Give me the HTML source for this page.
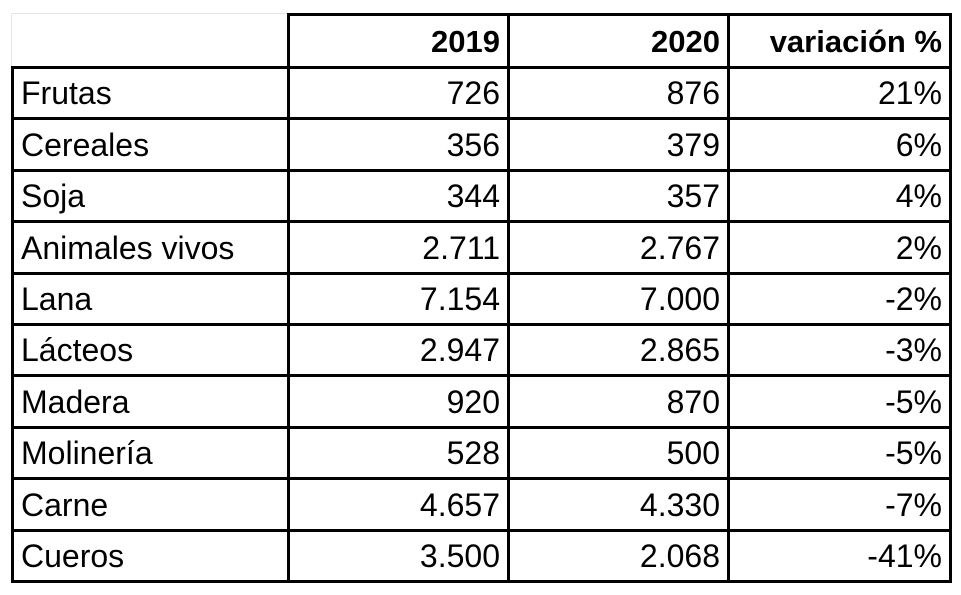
<!DOCTYPE html>
<html><head><meta charset="utf-8"><style>
body{margin:0;width:961px;height:595px;background:#fff;font-family:"Liberation Sans",sans-serif;overflow:hidden;position:relative}
.c{position:absolute;box-sizing:border-box;border:3px solid #000;font-size:32px;line-height:46px;color:#000;white-space:nowrap;overflow:hidden}
.r{text-align:right;padding-right:7px}
.l{text-align:left;padding-left:7px}
.h{font-weight:bold;font-size:31px}
</style></head><body>
<div id="t"></div>
<script>
const rows=["Frutas","Cereales","Soja","Animales vivos","Lana","Lácteos","Madera","Molinería","Carne","Cueros"];
const v2019=["726","356","344","2.711","7.154","2.947","920","528","4.657","3.500"];
const v2020=["876","379","357","2.767","7.000","2.865","870","500","4.330","2.068"];
const varPct=["21%","6%","4%","2%","-2%","-3%","-5%","-5%","-7%","-41%"];
const headers=["2019","2020","variación %"];
const xs=[11,287,507,727,949];
const top0=13,headH=53,rowH=51.4;
const t=document.getElementById('t');
function cell(x0,x1,y0,y1,txt,cls){
 const d=document.createElement('div');
 d.className='c '+cls;
 d.style.left=x0+'px';d.style.top=y0+'px';
 d.style.width=(x1-x0+3)+'px';d.style.height=(y1-y0+3)+'px';
 d.style.lineHeight=(y1-y0-2)+'px';
 d.textContent=txt;
 t.appendChild(d);return d;
}
const blank=cell(xs[0],xs[1],top0,top0+headH,'','l');
blank.style.border='1px solid #e6e6e6';


headers.forEach((h,i)=>{
 const d=cell(xs[i+1],xs[i+2],top0,top0+headH,h,'r h');
 
 
});
rows.forEach((r,i)=>{
 const y0=Math.round(top0+headH+i*rowH),y1=Math.round(top0+headH+(i+1)*rowH);
 const vals=[r,v2019[i],v2020[i],varPct[i]];
 vals.forEach((v,j)=>{
  const d=cell(xs[j],xs[j+1],y0,y1,v,j===0?'l':'r');
  
  
 });
});
</script>
</body></html>
